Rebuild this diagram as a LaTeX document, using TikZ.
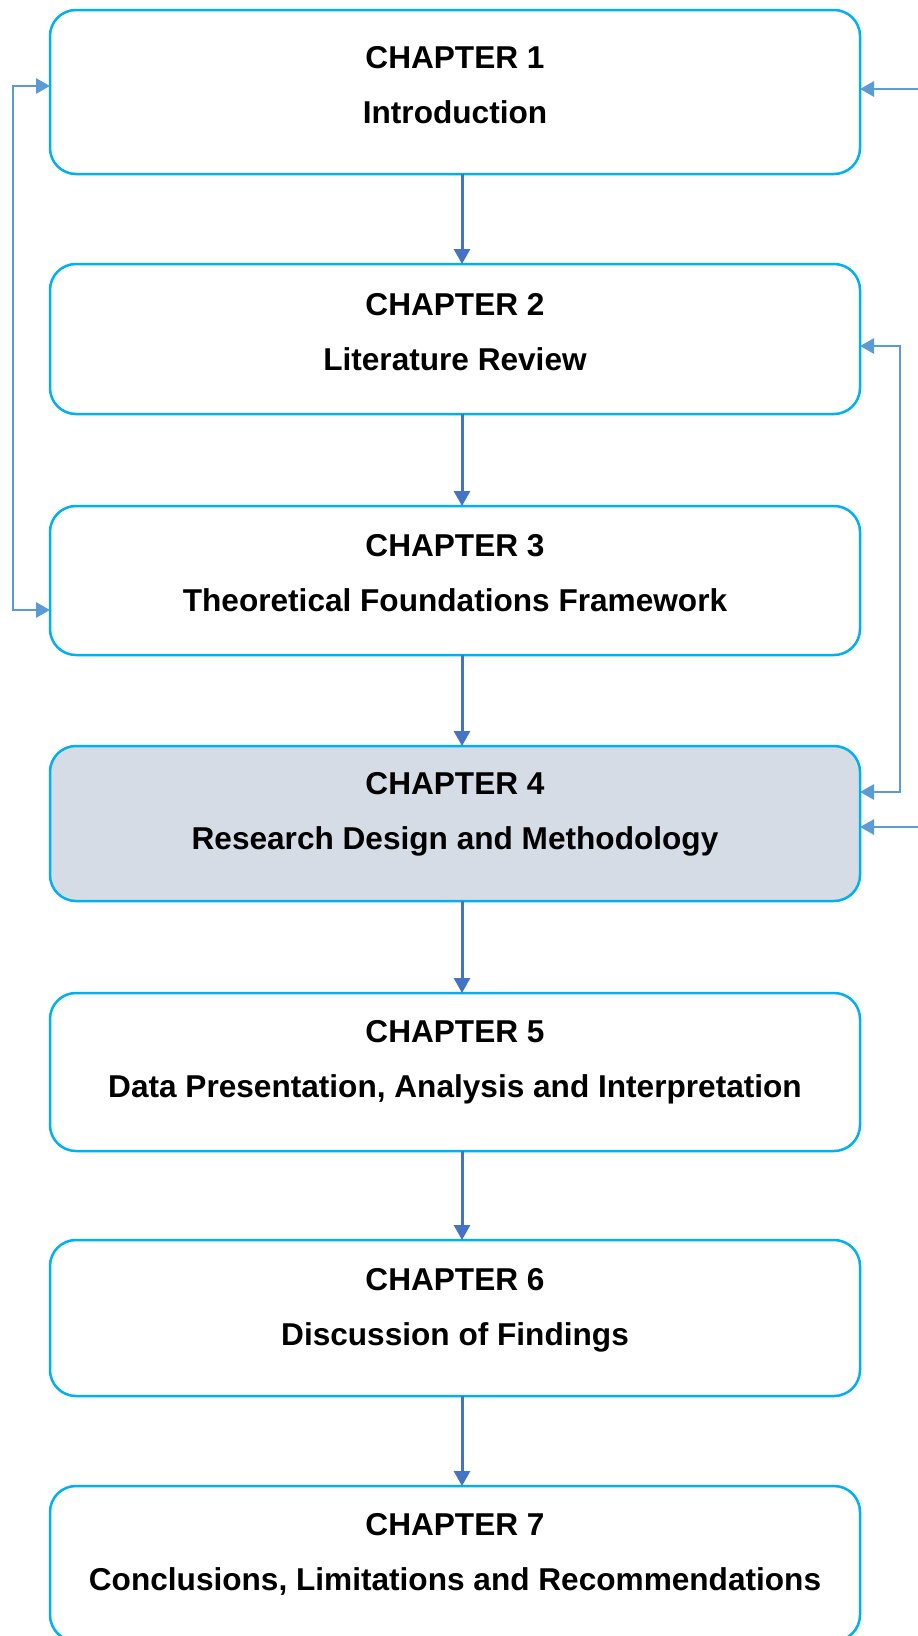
\documentclass[tikz,border=0pt]{standalone}
\usepackage{fontspec}
\setmainfont{Liberation Sans}
\usetikzlibrary{arrows.meta}
\definecolor{bordure}{HTML}{00B0F0}
\definecolor{fond}{HTML}{D6DCE5}
\definecolor{bleufonce}{HTML}{4472C4}
\definecolor{bleuclair}{HTML}{5B9BD5}
\begin{document}
\begin{tikzpicture}[x=1pt,y=-1pt]
    \tikzset{chapitre/.style={draw=bordure, line width=2.5pt, rounded corners=26pt, minimum width=810pt, outer sep=0pt, inner sep=0pt}}
    \tikzset{titre/.style={align=center, anchor=base, font=\fontsize{31.6}{55}\selectfont\bfseries}}
    \tikzset{fleche/.style={bleufonce, line width=3pt, -{Triangle[length=15pt,width=16pt]}}}
    \tikzset{lien/.style={bleuclair, line width=2.8pt, >={Triangle[length=14pt,width=15pt]}}}
    \path[use as bounding box, fill=white] (0,0) rectangle (918,1636);
    \node[chapitre, minimum height=164pt] (C1) at (455,92) {};
    \node[chapitre, minimum height=150pt] (C2) at (455,339) {};
    \node[chapitre, minimum height=149pt] (C3) at (455,580.5) {};
    \node[chapitre, minimum height=155pt, fill=fond] (C4) at (455,823.5) {};
    \node[chapitre, minimum height=158pt] (C5) at (455,1072) {};
    \node[chapitre, minimum height=156pt] (C6) at (455,1318) {};
    \node[chapitre, minimum height=155pt] (C7) at (455,1563.5) {};
    \node[titre] (T1) at (455,123.5) {CHAPTER 1\\Introduction};
    \node[titre] (T2) at (455,370.5) {CHAPTER 2\\Literature Review};
    \node[titre] (T3) at (455,611) {CHAPTER 3\\Theoretical Foundations Framework};
    \node[titre] (T4) at (455,849.5) {CHAPTER 4\\Research Design and Methodology};
    \node[titre] (T5) at (455,1097.5) {CHAPTER 5\\Data Presentation, Analysis and Interpretation};
    \node[titre] (T6) at (455,1345.5) {CHAPTER 6\\Discussion of Findings};
    \node[titre] (T7) at (455,1590.5) {CHAPTER 7\\Conclusions, Limitations and Recommendations};
    \draw[fleche] ([xshift=7pt]C1.south) -- ([xshift=7pt]C2.north);
    \draw[fleche] ([xshift=7pt]C2.south) -- ([xshift=7pt]C3.north);
    \draw[fleche] ([xshift=7pt]C3.south) -- ([xshift=7pt]C4.north);
    \draw[fleche] ([xshift=7pt]C4.south) -- ([xshift=7pt]C5.north);
    \draw[fleche] ([xshift=7pt]C5.south) -- ([xshift=7pt]C6.north);
    \draw[fleche] ([xshift=7pt]C6.south) -- ([xshift=7pt]C7.north);
    \coordinate (G) at (13,300);
    \coordinate (D) at (900,500);
    \coordinate (H1) at (918,89);
    \coordinate (H4) at (918,827);
    \draw[lien, <->] ([yshift=6pt]C1.west) -| (G) |- ([yshift=-29.5pt]C3.west);
    \draw[lien, <->] ([yshift=-7pt]C2.east) -| (D) |- ([yshift=31.5pt]C4.east);
    \draw[lien, ->] (H1) -- (H1 -| C1.east);
    \draw[lien, ->] (H4) -- (H4 -| C4.east);
  \end{tikzpicture}
\end{document}
